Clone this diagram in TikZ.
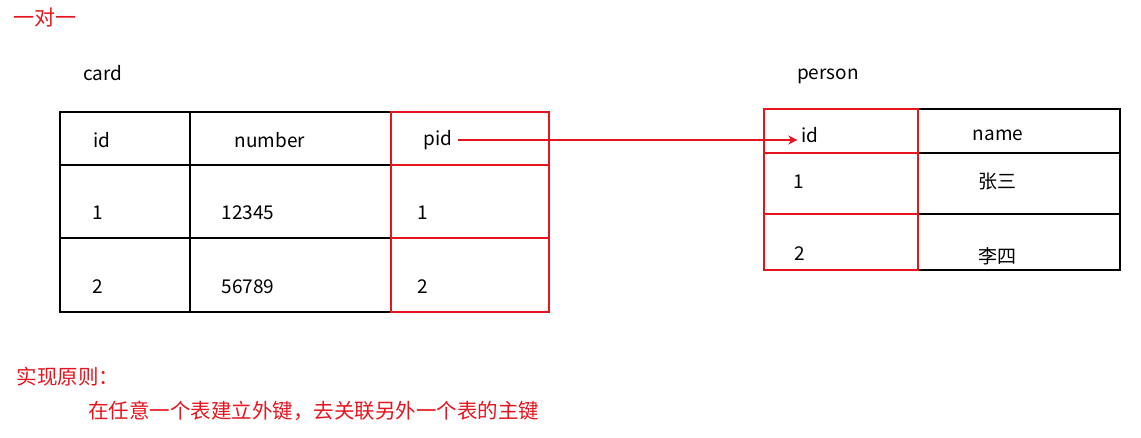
\documentclass[tikz,border=0pt]{standalone}
\usepackage{fontspec}
\usetikzlibrary{arrows.meta}
\setmainfont{Noto Sans CJK SC}
\begin{document}
\begin{tikzpicture}[x=1pt,y=-1pt,
 t/.style={font=\fontsize{19}{22}\selectfont,inner sep=0pt},
 r/.style={t,font=\fontsize{20.5}{23}\selectfont,text={rgb,255:red,230;green,20;blue,30}},
 bl/.style={line width=1.8pt},
 rb/.style={draw={rgb,255:red,230;green,20;blue,30},line width=1.8pt}]
\useasboundingbox (0,0) rectangle (1141,438);
% left table
\draw[bl] (60,112) rectangle (549,312);
\draw[bl] (190,112)--(190,312) (391,112)--(391,312) (60,165)--(549,165) (60,238)--(549,238);
\node[rb,minimum width=158pt,minimum height=53pt,inner sep=0pt] (p0) at (470,138.5) {};
\node[rb,minimum width=158pt,minimum height=73pt,inner sep=0pt] (p1) at (470,201.5) {};
\node[rb,minimum width=158pt,minimum height=74pt,inner sep=0pt] (p2) at (470,275) {};
\node[t] at (102,140) {id};
\node[t] at (270,140) {number};
\node[t] (pid) at (438,140) {pid};
\node[t] at (98,213) {1};
\node[t] at (248,213) {12345};
\node[t] at (423,213) {1};
\node[t] at (98,287) {2};
\node[t] at (248,287) {56789};
\node[t] at (423,287) {2};
% right table
\draw[bl] (764,109) rectangle (1120,270);
\draw[bl] (918,109)--(918,270) (764,153)--(1120,153) (764,214)--(1120,214);
\node[rb,minimum width=154pt,minimum height=44pt,inner sep=0pt] (q0) at (841,131) {};
\node[rb,minimum width=154pt,minimum height=61pt,inner sep=0pt] (q1) at (841,183.5) {};
\node[rb,minimum width=154pt,minimum height=56pt,inner sep=0pt] (q2) at (841,242) {};
\node[t] (id) at (810,135) {id};
\node[t] at (998,135) {name};
\node[t] at (799,182) {1};
\node[t] at (997,182) {张三};
\node[t] at (800,254) {2};
\node[t] at (997,256) {李四};
\draw[rb,-{Stealth[length=9pt,width=9pt]}] ([xshift=5pt]pid.east) -- ([xshift=-4pt]id.west |- pid.east);
% labels
\node[r,font=\fontsize{21}{24}\selectfont] at (45,18) {一对一};
\node[t] at (103,73) {card};
\node[t] at (828,76) {person};
\node[r] at (68,377) {实现原则：};
\node[r,anchor=west] at (88,411) {在任意一个表建立外键，去关联另外一个表的主键};
\end{tikzpicture}
\end{document}
